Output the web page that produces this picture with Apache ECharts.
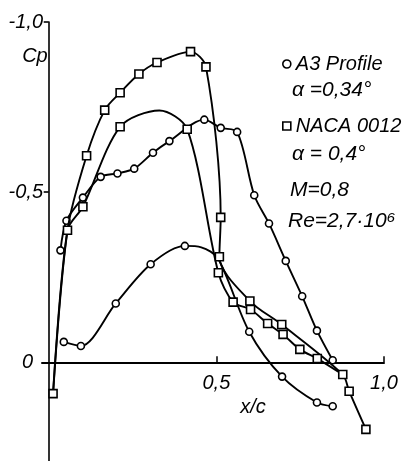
<!DOCTYPE html>
<html><head><meta charset="utf-8">
<script src="https://cdn.jsdelivr.net/npm/echarts@6/dist/echarts.min.js"></script>
<style>html,body{margin:0;padding:0;background:#fff}#c{width:404px;height:461px}</style>
</head><body><div id="c"></div>
<script>
// Cp vs x/c (negative Cp plotted upward)
// A3 profile, alpha = 0.34 deg (circles)
const a3Upper = [[0.035,-0.329],[0.053,-0.416],[0.102,-0.484],[0.155,-0.545],[0.205,-0.555],[0.255,-0.569],[0.311,-0.616],[0.360,-0.650],[0.464,-0.713],[0.513,-0.689],[0.562,-0.677],[0.613,-0.491],[0.657,-0.408],[0.707,-0.298],[0.756,-0.194],[0.800,-0.093],[0.847,-0.006]];
const a3Lower = [[0.045,-0.060],[0.096,-0.048],[0.200,-0.173],[0.304,-0.288],[0.406,-0.342],[0.455,-0.338,0],[0.505,-0.305,0],[0.598,-0.090],[0.696,0.042],[0.800,0.118],[0.847,0.129]];
// NACA 0012, alpha = 0.4 deg (squares); third value 0 = curve point without marker
const nacaUpper = [[0.013,0.092],[0.056,-0.388],[0.113,-0.607],[0.167,-0.741],[0.213,-0.792],[0.269,-0.847],[0.323,-0.881],[0.423,-0.913],[0.469,-0.868],[0.513,-0.426],[0.509,-0.310],[0.600,-0.180],[0.695,-0.111],[0.877,0.036],[0.896,0.085],[0.946,0.197]];
const nacaLower = [[0.013,0.092,0],[0.056,-0.388,0],[0.102,-0.457],[0.213,-0.692],[0.330,-0.740,0],[0.413,-0.685],[0.506,-0.263],[0.550,-0.177],[0.602,-0.155],[0.653,-0.114],[0.699,-0.082],[0.749,-0.038],[0.801,-0.011],[0.877,0.036,0]];
const seriesNames = ['A3 Profile','NACA 0012'];
const paramLines = ['\u03b1 =0,34\u00b0','\u03b1 = 0,4\u00b0','M=0,8','Re=2,7\u00b710\u2076'];
const xTicks = [0.5, 1.0];
const yTicks = [-1.0, -0.5, 0];

const FONT = '"Liberation Sans", Arial, sans-serif';
const markStyle = {color:'#fff', borderColor:'#000', borderWidth:1.6};
function toData(arr){
  return arr.map(p => p.length > 2 && p[2] === 0 ? {value:[p[0],p[1]], symbol:'none'} : {value:[p[0],p[1]]});
}
function mkSeries(name, arr, sym, size){
  return {name, type:'line', data: toData(arr), smooth:0.3, symbol:sym, symbolSize:size,
    showAllSymbol:true, lineStyle:{color:'#000', width:1.9}, itemStyle:markStyle,
    emphasis:{disabled:true}, z: sym==='rect'?3:2};
}
const comma = v => v.toFixed(1).replace('.', ',');
const chart = echarts.init(document.getElementById('c'), null, {renderer:'canvas'});
chart.setOption({
  animation:false,
  backgroundColor:'#fff',
  grid:{left:42, right:20, top:22, bottom:0, containLabel:false, outerBoundsMode:'none'},
  xAxis:{type:'value', min:-0.02, max:1.0,
    name:'x/c', nameLocation:'middle', nameGap:-76,
    nameTextStyle:{fontFamily:FONT, fontStyle:'italic', fontSize:20, color:'#000', padding:[0,0,0,80]},
    axisLine:{onZero:true, lineStyle:{color:'#000', width:2}},
    axisTick:{show:true, inside:true, length:6, customValues:xTicks, lineStyle:{color:'#000', width:1.5}},
    axisLabel:{customValues:xTicks, formatter:comma, margin:-88, fontFamily:FONT, fontStyle:'italic', fontSize:20, color:'#000'},
    splitLine:{show:false}},
  yAxis:{type:'value', inverse:true, min:-1.0, max:0.29,
    name:'Cp', nameLocation:'start', nameGap:-44,
    nameTextStyle:{fontFamily:FONT, fontStyle:'italic', fontSize:20, color:'#000', align:'right', padding:[0,1,0,0]},
    axisLine:{onZero:true, lineStyle:{color:'#000', width:1.6}},
    axisTick:{show:true, length:5, customValues:[-1.0,-0.5], lineStyle:{color:'#000', width:1.6}},
    axisLabel:{customValues:yTicks, margin:-1, fontFamily:FONT, fontStyle:'italic', fontSize:20, color:'#000',
      formatter: v => v === 0 ? '{z|0}' : comma(v),
      rich:{z:{fontFamily:FONT, fontStyle:'italic', fontSize:20, color:'#000', padding:[0,10,0,0]}}},
    splitLine:{show:false}},
  legend:{orient:'vertical', left:277, top:49, itemGap:42, itemWidth:8, itemHeight:8,
    textStyle:{fontFamily:FONT, fontStyle:'italic', fontSize:20, color:'#000'},
    data:[{name:seriesNames[0], icon:'circle', itemStyle:markStyle},
          {name:seriesNames[1], icon:'rect', itemStyle:markStyle}]},
  graphic:[
    {type:'text', left:292, top:80, style:{text:paramLines[0], font:'italic 21px '+FONT, fill:'#000'}},
    {type:'text', left:292, top:144, style:{text:paramLines[1], font:'italic 21px '+FONT, fill:'#000'}},
    {type:'text', left:290, top:180, style:{text:paramLines[2], font:'italic 21px '+FONT, fill:'#000'}},
    {type:'text', left:288, top:211, style:{text:paramLines[3], font:'italic 21px '+FONT, fill:'#000'}}
  ],
  series:[
    mkSeries(seriesNames[0], a3Upper, 'circle', 7),
    mkSeries(seriesNames[0], a3Lower, 'circle', 7),
    mkSeries(seriesNames[1], nacaUpper, 'rect', 8),
    mkSeries(seriesNames[1], nacaLower, 'rect', 8)
  ]
});
</script></body></html>
